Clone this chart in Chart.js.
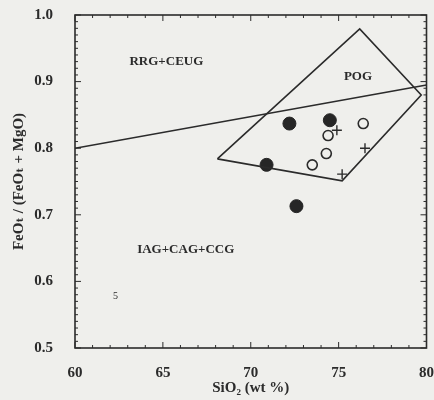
<!DOCTYPE html>
<html>
<head>
<meta charset="utf-8">
<script src="https://cdn.jsdelivr.net/npm/chart.js@4/dist/chart.umd.min.js"></script>
<style>
  html, body { margin: 0; padding: 0; background: #efefec; }
  #wrap { width: 434px; height: 400px; }
</style>
</head>
<body>
<div id="wrap"><canvas id="chart"></canvas></div>
<script>
// Discrimination diagram: FeOt/(FeOt+MgO) vs SiO2

// Axis ticks
const xTicks = [60, 65, 70, 75, 80];
const yTicks = [0.5, 0.6, 0.7, 0.8, 0.9, 1.0];

// RRG+CEUG / IAG+CAG+CCG boundary
const boundaryX = [60, 80];
const boundaryY = [0.800, 0.895];

// POG field outline (closed)
const pogX = [68.1, 76.2, 79.7, 75.2, 68.1];
const pogY = [0.784, 0.979, 0.880, 0.751, 0.784];

// Samples
const filledX = [72.2, 74.5, 70.9, 72.6];
const filledY = [0.837, 0.842, 0.775, 0.713];
const openX = [76.4, 74.4, 74.3, 73.5];
const openY = [0.837, 0.819, 0.792, 0.775];
const crossX = [74.9, 76.5, 75.2];
const crossY = [0.827, 0.800, 0.761];

// Field labels
const fieldLabels = ['RRG+CEUG', 'POG', 'IAG+CAG+CCG', '5'];
const fieldX = [65.2, 76.1, 66.3, 62.3];
const fieldY = [0.930, 0.907, 0.647, 0.578];

const INK = '#2b2b2b';
const SERIF = '"Liberation Serif", "DejaVu Serif", serif';

function pts(xs, ys) {
    return xs.map((x, i) => ({ x: x, y: ys[i] }));
}

// background
const bgPlugin = {
    id: 'bg',
    beforeDraw(chart) {
        const ctx = chart.ctx;
        ctx.save();
        ctx.fillStyle = '#efefec';
        ctx.fillRect(0, 0, chart.width, chart.height);
        ctx.restore();
    }
};

// frame with inward ticks on all four sides + field labels
const framePlugin = {
    id: 'frame',
    afterDatasetsDraw(chart) {
        const ctx = chart.ctx;
        const a = chart.chartArea;
        const xs = chart.scales.x;
        const ys = chart.scales.y;
        ctx.save();
        ctx.strokeStyle = INK;
        ctx.lineWidth = 1.6;
        ctx.strokeRect(a.left, a.top, a.right - a.left, a.bottom - a.top);

        ctx.lineWidth = 1;
        ctx.beginPath();
        for (let v = 60; v <= 80; v += 1) {
            const px = xs.getPixelForValue(v);
            const len = v % 5 === 0 ? 6 : 3;
            ctx.moveTo(px, a.bottom); ctx.lineTo(px, a.bottom - len);
            ctx.moveTo(px, a.top); ctx.lineTo(px, a.top + len);
        }
        for (let i = 0; i <= 50; i++) {
            const v = 0.5 + i * 0.01;
            const py = ys.getPixelForValue(v);
            const len = i % 10 === 0 ? 6 : 3;
            ctx.moveTo(a.left, py); ctx.lineTo(a.left + len, py);
            ctx.moveTo(a.right, py); ctx.lineTo(a.right - len, py);
        }
        ctx.stroke();

        ctx.fillStyle = INK;
        ctx.textAlign = 'center';
        ctx.textBaseline = 'middle';
        fieldLabels.forEach((t, i) => {
            ctx.font = (t.length === 1 ? '10px ' : 'bold 13px ') + SERIF;
            ctx.fillText(t, xs.getPixelForValue(fieldX[i]), ys.getPixelForValue(fieldY[i]));
        });
        ctx.restore();
    }
};

new Chart(document.getElementById('chart'), {
    type: 'scatter',
    data: {
        datasets: [
            {
                label: 'boundary',
                data: pts(boundaryX, boundaryY),
                showLine: true,
                borderColor: INK,
                borderWidth: 1.6,
                pointRadius: 0
            },
            {
                label: 'POG',
                data: pts(pogX, pogY),
                showLine: true,
                borderColor: INK,
                borderWidth: 1.6,
                pointRadius: 0
            },
            {
                label: 'filled',
                data: pts(filledX, filledY),
                pointStyle: 'circle',
                pointRadius: 6.5,
                backgroundColor: '#262626',
                borderColor: '#262626',
                borderWidth: 1
            },
            {
                label: 'open',
                data: pts(openX, openY),
                pointStyle: 'circle',
                pointRadius: 5,
                backgroundColor: 'rgba(0,0,0,0)',
                borderColor: INK,
                borderWidth: 1.6
            },
            {
                label: 'cross',
                data: pts(crossX, crossY),
                pointStyle: 'cross',
                pointRadius: 5,
                borderColor: INK,
                borderWidth: 1.4
            }
        ]
    },
    options: {
        responsive: true,
        maintainAspectRatio: false,
        animation: false,
        layout: { padding: { top: 15, right: 6, left: 0, bottom: 0 } },
        plugins: {
            legend: { display: false },
            tooltip: { enabled: false }
        },
        elements: { line: { tension: 0 } },
        scales: {
            x: {
                type: 'linear',
                min: 60,
                max: 80,
                afterFit: s => { s.height = 52; s.paddingLeft = 0; s.paddingRight = 0; },
                afterBuildTicks: s => { s.ticks = xTicks.map(v => ({ value: v })); },
                grid: { display: false },
                border: { display: false },
                ticks: {
                    padding: 8,
                    color: INK,
                    font: { family: SERIF, size: 15, weight: 'bold' }
                },
                title: {
                    display: true,
                    text: 'SiO\u2082 (wt %)',
                    color: INK,
                    font: { family: SERIF, size: 15, weight: 'bold' },
                    padding: { top: 0, bottom: 3 }
                }
            },
            y: {
                type: 'linear',
                min: 0.5,
                max: 1.0,
                afterFit: s => { s.width = 75; s.paddingTop = 0; s.paddingBottom = 0; },
                afterBuildTicks: s => { s.ticks = yTicks.map(v => ({ value: v })); },
                grid: { display: false },
                border: { display: false },
                ticks: {
                    padding: 14,
                    color: INK,
                    font: { family: SERIF, size: 15, weight: 'bold' },
                    callback: v => v.toFixed(1)
                },
                title: {
                    display: true,
                    text: 'FeO\u209C / (FeO\u209C + MgO)',
                    color: INK,
                    font: { family: SERIF, size: 15, weight: 'bold' },
                    padding: { top: 10, bottom: 0 }
                }
            }
        }
    },
    plugins: [bgPlugin, framePlugin]
});
</script>
</body>
</html>
